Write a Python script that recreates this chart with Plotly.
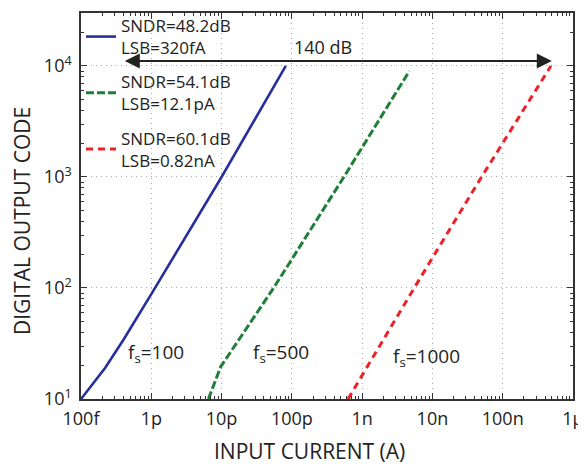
import numpy as np
import plotly.graph_objects as go

# ---- data ----
blue_x = [1e-13, 1.35e-13, 2.2e-13, 4e-13, 1e-12, 1e-11, 8.2e-11]
blue_y = [10, 12.8, 19, 34, 88, 1000, 10000]

green_x = [6.5e-12, 9.7e-12, 5.5e-11, 5.5e-10, 4.7e-9]
green_y = [10, 19.5, 100, 1000, 9000]

red_x = [6.3e-10, 5.5e-9, 5e-8, 4.85e-7]
red_y = [10, 100, 1000, 10000]

legend_names = ["SNDR=48.2dB<br>LSB=320fA",
                "SNDR=54.1dB<br>LSB=12.1pA",
                "SNDR=60.1dB<br>LSB=0.82nA"]

fs_labels = ["f<sub>s</sub>=100", "f<sub>s</sub>=500", "f<sub>s</sub>=1000"]
fs_pos_x = [1.15e-12, 6.9e-11, 8.1e-9]
fs_pos_y = [26, 26, 24]

arrow_x = [4e-13, 5e-7]
arrow_y = 11100
arrow_label = "140 dB"
arrow_label_pos = (2.75e-10, 14800)

y_tickvals = [10, 100, 1000, 10000]
y_ticktext = ["10<sup>1</sup>", "10<sup>2</sup>", "10<sup>3</sup>", "10<sup>4</sup>"]
x_tickvals = [1e-13, 1e-12, 1e-11, 1e-10, 1e-9, 1e-8, 1e-7, 1e-6]
x_ticktext = ["100f", "1p", "10p", "100p", "1n", "10n", "100n", "1μ"]

FONT = "Open Sans"
fig = go.Figure()
fig.add_trace(go.Scatter(x=blue_x, y=blue_y, mode="lines", name=legend_names[0],
                         legendgroup="a",
                         line=dict(color="#27309a", width=2.6)))
fig.add_trace(go.Scatter(x=green_x, y=green_y, mode="lines", name=legend_names[1],
                         legendgroup="b",
                         line=dict(color="#1f7f38", width=3, dash="8px,3px")))
fig.add_trace(go.Scatter(x=red_x, y=red_y, mode="lines", name=legend_names[2],
                         legendgroup="c",
                         line=dict(color="#ec2228", width=3, dash="7px,5px")))

minor_x = [m * 10.0 ** e for e in range(-13, -6) for m in range(2, 10)]
minor_y = [m * 10.0 ** e for e in range(1, 5) for m in range(2, 10)]

axis_common = dict(showline=True, linecolor="#333", linewidth=1.5, mirror="ticks",
                   ticks="inside", ticklen=6, tickcolor="#333", tickwidth=1,
                   showgrid=True, gridcolor="#a8a8a8", griddash="1px,4px", gridwidth=1.3,
                   zeroline=False, automargin=False,
                   tickfont=dict(family=FONT, size=18, color="#222"))

fig.update_xaxes(type="log", range=[-13, -6], tickvals=x_tickvals, ticktext=x_ticktext,
                 ticklabelstandoff=3,
                 minor=dict(tickvals=minor_x, ticks="inside", ticklen=3,
                            tickcolor="#333", showgrid=False),
                 **axis_common)
fig.update_yaxes(type="log", range=[1, 4.477], tickvals=y_tickvals, ticktext=y_ticktext,
                 ticklabelstandoff=4,
                 minor=dict(tickvals=minor_y, ticks="inside", ticklen=3,
                            tickcolor="#333", showgrid=False),
                 **axis_common)

annotations = []
for t, x, y in zip(fs_labels, fs_pos_x, fs_pos_y):
    annotations.append(dict(x=np.log10(x), y=np.log10(y), xref="x", yref="y", text=t,
                            showarrow=False, font=dict(family=FONT, size=19, color="#222")))
# double arrow
annotations.append(dict(x=np.log10(arrow_x[1]), y=np.log10(arrow_y),
                        ax=np.log10(arrow_x[0]), ay=np.log10(arrow_y),
                        xref="x", yref="y", axref="x", ayref="y", text="",
                        showarrow=True, arrowhead=2, startarrowhead=2, arrowside="end+start",
                        arrowsize=1.5, startarrowsize=1.5, arrowwidth=2, arrowcolor="#222"))
annotations.append(dict(x=np.log10(arrow_label_pos[0]), y=np.log10(arrow_label_pos[1]),
                        xref="x", yref="y", text=arrow_label, showarrow=False,
                        font=dict(family=FONT, size=18, color="#222")))
annotations.append(dict(x=0.4654, y=-0.135, xref="paper", yref="paper",
                        xanchor="center", yanchor="middle",
                        text="INPUT CURRENT (A)", showarrow=False,
                        font=dict(family=FONT, size=21, color="#222")))
annotations.append(dict(x=-0.12, y=0.461, xref="paper", yref="paper",
                        xanchor="center", yanchor="middle",
                        text="DIGITAL OUTPUT CODE", textangle=-90, showarrow=False,
                        font=dict(family=FONT, size=21, color="#222")))

# the page body adds an 8px offset; size the figure so the plot lands where the reference has it
fig.update_layout(
    width=578, height=464,
    margin=dict(l=73, r=13, t=5, b=73, autoexpand=False),
    paper_bgcolor="white", plot_bgcolor="white",
    font=dict(family=FONT, size=17, color="#222"),
    annotations=annotations,
    showlegend=True,
    legend=dict(x=0.0, y=1.013, xanchor="left", yanchor="top",
                bgcolor="rgba(0,0,0,0)", borderwidth=0,
                font=dict(family=FONT, size=17, color="#222"),
                tracegroupgap=9, valign="middle"),
)

fig.write_html("out.html")
